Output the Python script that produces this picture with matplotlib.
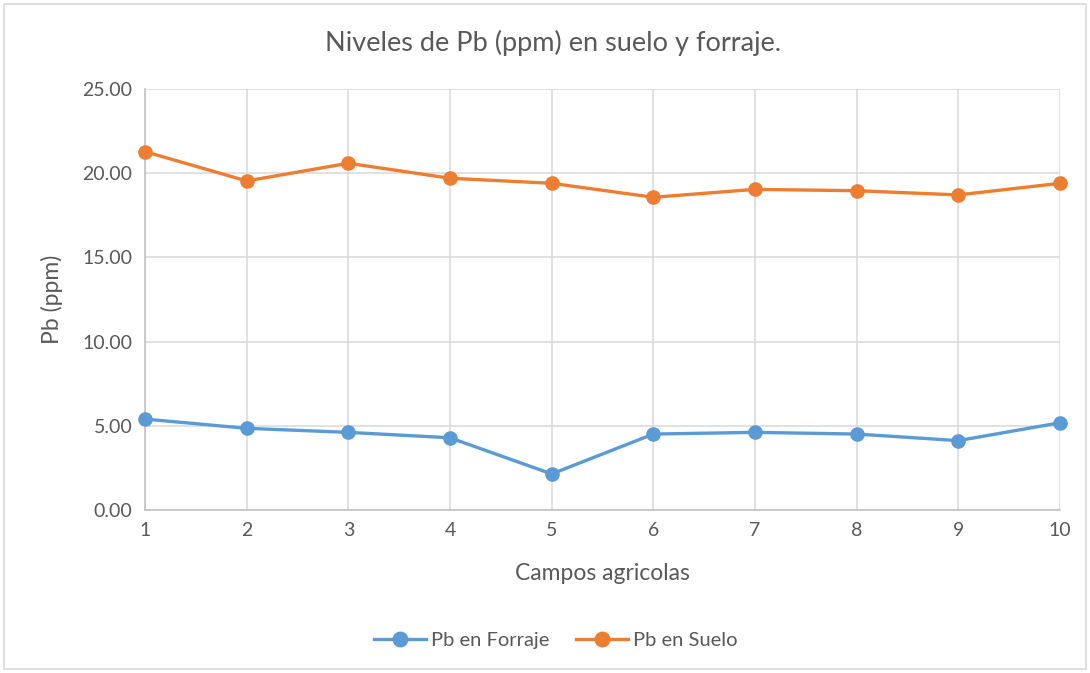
import matplotlib
matplotlib.use("Agg")
import matplotlib.pyplot as plt
from matplotlib.patches import Rectangle

campos = [1, 2, 3, 4, 5, 6, 7, 8, 9, 10]
pb_forraje = [5.40, 4.85, 4.61, 4.29, 2.14, 4.51, 4.61, 4.51, 4.12, 5.18]
pb_suelo = [21.28, 19.54, 20.59, 19.70, 19.40, 18.57, 19.04, 18.96, 18.71, 19.40]
yticks = [0, 5, 10, 15, 20, 25]

plt.rcParams['font.family'] = ['Lato', 'DejaVu Sans']
txt = '#595959'
W, H = 1090, 673
fig = plt.figure(figsize=(W/100, H/100), dpi=100)
ax = fig.add_axes([145/W, 1-510/H, (1060-145)/W, (510-89)/H])

ax.plot(campos, pb_forraje, color='#5b9bd5', lw=2.4, marker='o', ms=9.5,
        label='Pb en Forraje', zorder=3, clip_on=False)
ax.plot(campos, pb_suelo, color='#ed7d31', lw=2.4, marker='o', ms=9.5,
        label='Pb en Suelo', zorder=3, clip_on=False)

ax.set_xlim(1, 10)
ax.set_ylim(0, 25)
ax.set_xticks(campos)
ax.set_yticks(yticks)
ax.set_yticklabels([f'{v:.2f}' for v in yticks])
ax.grid(True, color='#d9d9d9', lw=1.1)
ax.set_axisbelow(True)
for s in ['top', 'right']:
    ax.spines[s].set_visible(False)
for s in ['left', 'bottom']:
    ax.spines[s].set_color('#bfbfbf')
    ax.spines[s].set_linewidth(1.1)
ax.tick_params(length=0, labelsize=14, colors=txt, pad=9)

ax.set_xlabel('Campos agricolas', fontsize=16.5, color=txt, labelpad=17)
ax.set_ylabel('Pb (ppm)', fontsize=16.5, color=txt, labelpad=14)
fig.text(553/W, 1-43/H, 'Niveles de Pb (ppm) en suelo y forraje.', ha='center',
         va='center', fontsize=19.5, color=txt)

leg = fig.legend(loc='center', bbox_to_anchor=(556/W, 1-640/H), ncol=2,
                 frameon=False, fontsize=14.5, labelcolor=txt, handlelength=2.6,
                 columnspacing=1.3, handletextpad=0.25, markerscale=1.1)

fig.patches.append(Rectangle((4/W, 4/H), 1-8/W, 1-8/H, transform=fig.transFigure,
                             fill=False, edgecolor='#d9d9d9', lw=1.2))
fig.savefig('out.png', dpi=100, facecolor='white')
